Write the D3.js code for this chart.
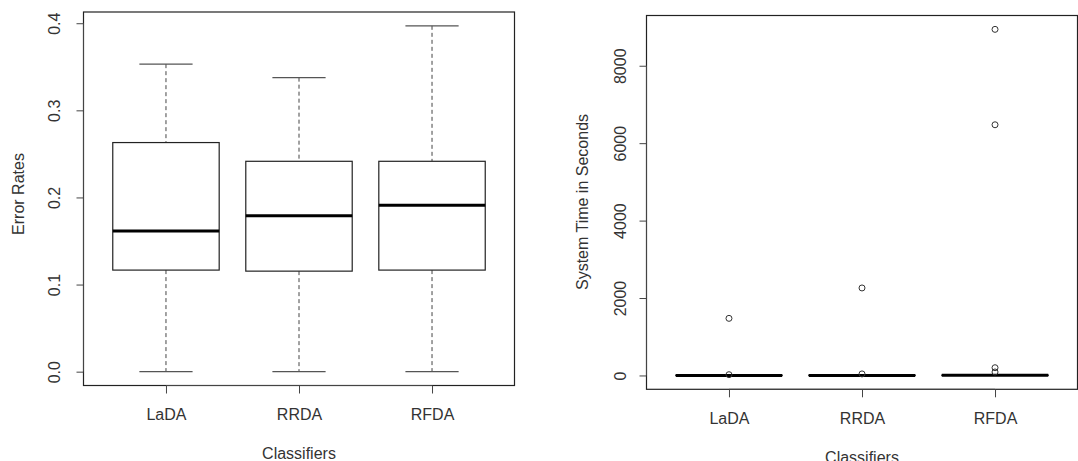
<!DOCTYPE html>
<html>
<head>
<meta charset="utf-8">
<script src="https://cdn.jsdelivr.net/npm/d3@7"></script>
<style>
  body { margin: 0; background: #fff; }
  svg { display: block; }
  text { font-family: "Liberation Sans", Arial, sans-serif; fill: #333; }
</style>
</head>
<body>
<div id="vis"></div>
<script>

var classifiers = ["LaDA", "RRDA", "RFDA"];

// error rates, five number summary per classifier
var errMin = [0, 0, 0];
var errQ1 = [0.1166, 0.1154, 0.1166];
var errMed = [0.1615, 0.179, 0.191];
var errQ3 = [0.263, 0.2415, 0.2415];
var errMax = [0.353, 0.3375, 0.397];
var errTicks = [0, 0.1, 0.2, 0.3, 0.4];

// system time in seconds
var timeMin = [0, 0, 0];
var timeQ1 = [1, 1, 1];
var timeMed = [2, 2, 3];
var timeQ3 = [5, 6, 8];
var timeMax = [12, 14, 20];
var timeOutliers = [[1475, 20], [2260, 40], [8940, 6475, 200, 90]];
var timeTicks = [0, 2000, 4000, 6000, 8000];

var width = 1078, height = 461;

var svg = d3.select("#vis").append("svg")
  .attr("width", width)
  .attr("height", height);

function boxPanel(opts) {
  var stats = classifiers.map(function(c, i) {
    return {name: c, min: opts.min[i], q1: opts.q1[i], med: opts.med[i],
            q3: opts.q3[i], max: opts.max[i], out: opts.out ? opts.out[i] : []};
  });

  // R style: xlim 0.5..n+0.5 widened by 4%
  var x = d3.scaleLinear()
    .domain([0.38, classifiers.length + 0.62])
    .range([opts.left, opts.right]);

  var lo = d3.min(stats, function(d) { return d3.min([d.min].concat(d.out)); });
  var hi = d3.max(stats, function(d) { return d3.max([d.max].concat(d.out)); });
  var pad = (hi - lo) * 0.04;
  var y = d3.scaleLinear()
    .domain([lo - pad, hi + pad])
    .range([opts.bottom, opts.top]);

  var g = svg.append("g");

  var boxHalf = x(1.4) - x(1);
  var capHalf = x(1.2) - x(1);

  var box = g.selectAll(".box")
    .data(stats).enter()
    .append("g")
    .attr("class", "box")
    .attr("transform", function(d, i) { return "translate(" + x(i + 1) + ",0)"; });

  // whiskers
  box.append("line")
    .attr("x1", 0).attr("x2", 0)
    .attr("y1", function(d) { return y(d.max); })
    .attr("y2", function(d) { return y(d.q3); })
    .attr("stroke", "#444").attr("stroke-dasharray", "4,3");
  box.append("line")
    .attr("x1", 0).attr("x2", 0)
    .attr("y1", function(d) { return y(d.q1); })
    .attr("y2", function(d) { return y(d.min); })
    .attr("stroke", "#444").attr("stroke-dasharray", "4,3");

  // caps
  box.selectAll(".cap")
    .data(function(d) { return [d.min, d.max]; }).enter()
    .append("line")
    .attr("class", "cap")
    .attr("x1", -capHalf).attr("x2", capHalf)
    .attr("y1", function(v) { return y(v); })
    .attr("y2", function(v) { return y(v); })
    .attr("stroke", "#555").attr("stroke-width", 1.3);

  box.append("rect")
    .attr("x", -boxHalf)
    .attr("width", boxHalf * 2)
    .attr("y", function(d) { return y(d.q3); })
    .attr("height", function(d) { return y(d.q1) - y(d.q3); })
    .attr("fill", "#fff")
    .attr("stroke", "#222").attr("stroke-width", 1.2);

  box.append("line")
    .attr("x1", -boxHalf).attr("x2", boxHalf)
    .attr("y1", function(d) { return y(d.med); })
    .attr("y2", function(d) { return y(d.med); })
    .attr("stroke", "#000").attr("stroke-width", 3);

  box.selectAll(".outlier")
    .data(function(d) { return d.out; }).enter()
    .append("circle")
    .attr("class", "outlier")
    .attr("cx", 0)
    .attr("cy", function(v) { return y(v); })
    .attr("r", 3)
    .attr("fill", "none")
    .attr("stroke", "#333").attr("stroke-width", 1);

  // frame
  g.append("rect")
    .attr("x", opts.left).attr("y", opts.top)
    .attr("width", opts.right - opts.left)
    .attr("height", opts.bottom - opts.top)
    .attr("fill", "none")
    .attr("stroke", "#222").attr("stroke-width", 1.2);

  // y axis
  var yAxis = g.append("g")
    .attr("transform", "translate(" + opts.left + ",0)")
    .call(d3.axisLeft(y).tickValues(opts.ticks).tickSize(7).tickFormat(opts.fmt));
  yAxis.select(".domain")
    .attr("d", "M0," + y(opts.ticks[0]) + "V" + y(opts.ticks[opts.ticks.length - 1]))
    .attr("stroke", "#444");
  yAxis.selectAll(".tick line").attr("stroke", "#444");
  yAxis.selectAll(".tick text")
    .attr("transform", "rotate(-90)")
    .attr("x", 0).attr("dy", null)
    .attr("y", opts.tickOff)
    .attr("text-anchor", "middle")
    .attr("fill", "#333")
    .style("font-size", "16px");

  // x axis
  var xAxis = g.append("g")
    .attr("transform", "translate(0," + opts.bottom + ")")
    .call(d3.axisBottom(x).tickValues([1, 2, 3]).tickSize(8)
      .tickFormat(function(d) { return classifiers[d - 1]; }));
  xAxis.select(".domain")
    .attr("d", "M" + x(1) + ",0H" + x(3))
    .attr("stroke", "#444");
  xAxis.selectAll(".tick line").attr("stroke", "#444");
  xAxis.selectAll(".tick text")
    .attr("dy", null)
    .attr("y", opts.xLabOff)
    .attr("fill", "#333")
    .style("font-size", "16px");

  svg.selectAll(".tick text").attr("font-family", null);
  svg.selectAll("g[font-family]").attr("font-family", null).attr("font-size", null);

  g.append("text")
    .attr("x", (opts.left + opts.right) / 2)
    .attr("y", opts.xTitleY)
    .attr("text-anchor", "middle")
    .style("font-size", "16px")
    .text("Classifiers");

  g.append("text")
    .attr("transform", "translate(" + opts.yTitleX + "," + opts.yTitleY + ") rotate(-90)")
    .attr("text-anchor", "middle")
    .style("font-size", "16px")
    .text(opts.yTitle);
}

boxPanel({
  left: 83.5, right: 514.5, top: 12, bottom: 385.5,
  min: errMin, q1: errQ1, med: errMed, q3: errQ3, max: errMax,
  ticks: errTicks, fmt: d3.format(".1f"),
  tickOff: -24, xLabOff: 34, xTitleY: 459,
  yTitle: "Error Rates", yTitleX: 24, yTitleY: 194
});

boxPanel({
  left: 646.5, right: 1077.5, top: 15.5, bottom: 389.3,
  min: timeMin, q1: timeQ1, med: timeMed, q3: timeQ3, max: timeMax, out: timeOutliers,
  ticks: timeTicks, fmt: d3.format("d"),
  tickOff: -20.5, xLabOff: 35, xTitleY: 463,
  yTitle: "System Time in Seconds", yTitleX: 588, yTitleY: 202
});

</script>
</body>
</html>
